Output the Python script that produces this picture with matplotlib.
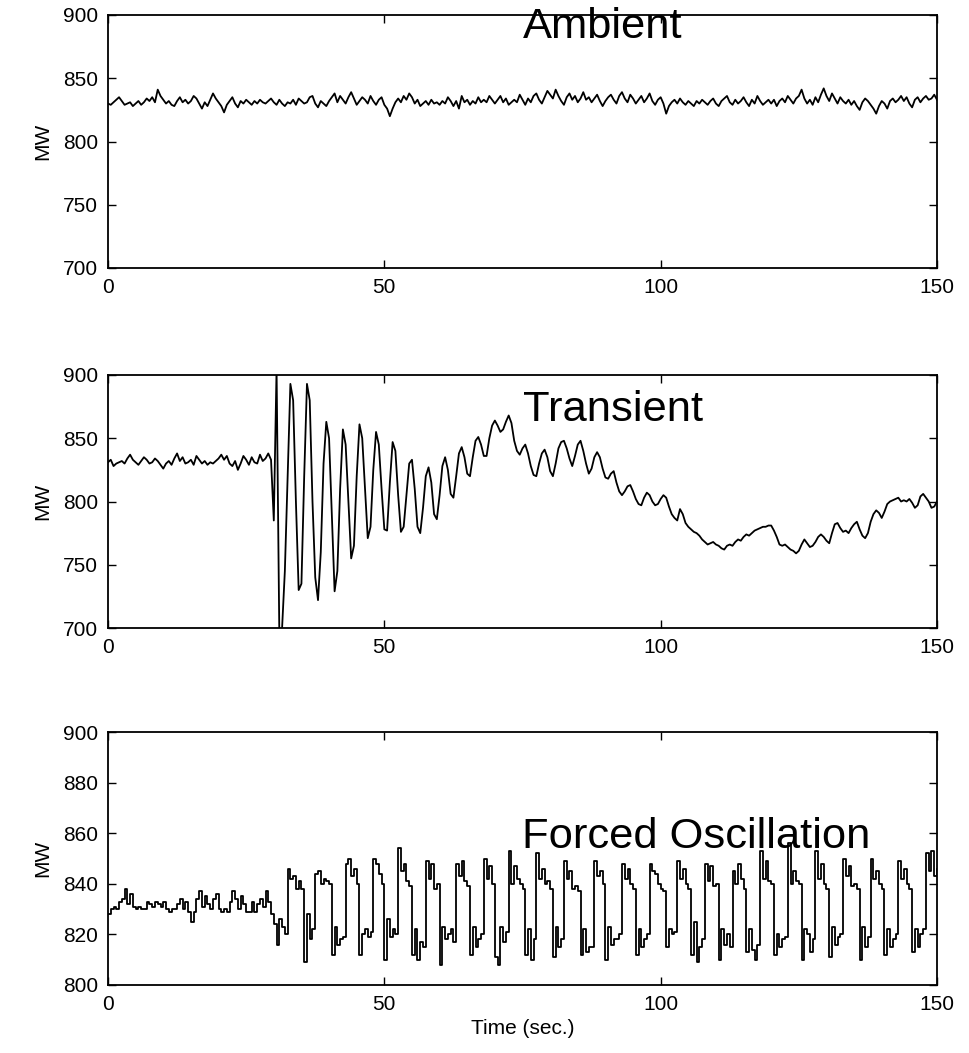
import numpy as np
import matplotlib
matplotlib.use("Agg")
import matplotlib.pyplot as plt

plt.rcParams['font.family'] = ['Liberation Sans', 'DejaVu Sans']

# ---------------- data (MW, sampled every 0.5 s from 0 to 150 s) ----------------
ambient_mw = [
    830, 829, 831, 833, 835, 832, 829, 830, 831, 828, 830, 832, 829, 831, 834, 832, 835, 831, 841, 836,
    833, 830, 832, 829, 828, 832, 835, 831, 833, 830, 832, 836, 834, 830, 826, 831, 828, 833, 838, 834,
    831, 828, 823, 829, 832, 835, 830, 827, 832, 830, 833, 831, 829, 832, 830, 833, 831, 830, 832, 834,
    831, 829, 833, 830, 828, 831, 830, 833, 829, 834, 832, 830, 831, 835, 836, 830, 827, 832, 830, 828,
    832, 835, 838, 831, 836, 833, 830, 835, 839, 834, 829, 832, 835, 833, 830, 836, 832, 829, 833, 835,
    829, 826, 820, 826, 831, 834, 831, 836, 833, 838, 835, 830, 833, 828, 830, 832, 829, 833, 830, 831,
    829, 832, 830, 835, 832, 828, 832, 826, 836, 831, 833, 829, 832, 830, 835, 831, 833, 831, 836, 833,
    830, 833, 836, 831, 834, 829, 831, 833, 831, 837, 833, 829, 834, 831, 836, 838, 833, 830, 835, 840,
    837, 834, 841, 836, 832, 829, 835, 838, 833, 836, 831, 834, 839, 833, 835, 831, 834, 837, 832, 828,
    832, 835, 837, 833, 830, 836, 839, 834, 831, 837, 834, 830, 833, 836, 831, 834, 838, 832, 829, 833,
    835, 830, 822, 828, 831, 833, 830, 834, 831, 829, 832, 830, 828, 832, 830, 833, 831, 829, 832, 834,
    830, 828, 832, 834, 836, 831, 829, 833, 830, 832, 835, 831, 828, 833, 830, 836, 832, 829, 831, 833,
    830, 833, 828, 832, 834, 831, 836, 833, 830, 834, 836, 841, 834, 830, 833, 829, 835, 831, 837, 842,
    836, 832, 838, 834, 830, 835, 832, 830, 833, 829, 832, 828, 825, 831, 834, 832, 829, 826, 822, 828,
    832, 830, 826, 832, 834, 831, 833, 836, 832, 835, 830, 827, 833, 835, 831, 834, 836, 833, 834, 837,
    833,
]

transient_mw = [
    831, 833, 828, 830, 831, 832, 830, 834, 837, 833, 831, 829, 832, 835, 833, 830, 831, 834, 832, 829,
    826, 830, 832, 829, 834, 838, 832, 835, 830, 831, 833, 829, 836, 833, 830, 832, 829, 831, 830, 832,
    834, 837, 833, 836, 830, 828, 832, 825, 830, 836, 833, 829, 835, 831, 830, 837, 832, 834, 838, 833,
    785, 905, 695, 700, 745, 820, 893, 880, 800, 730, 735, 820, 893, 880, 800, 740, 722, 760, 830, 863,
    850, 790, 729, 745, 810, 857, 845, 800, 755, 765, 820, 861, 850, 810, 771, 780, 825, 855, 845, 810,
    778, 777, 815, 847, 840, 805, 776, 780, 805, 830, 833, 810, 780, 775, 795, 820, 827, 815, 790, 786,
    805, 828, 835, 825, 806, 803, 820, 838, 843, 835, 822, 820, 835, 848, 851, 845, 836, 836, 850, 860,
    864, 860, 855, 857, 863, 868, 862, 848, 840, 837, 842, 845, 838, 828, 821, 820, 830, 838, 841, 835,
    824, 820, 830, 842, 847, 848, 842, 834, 828, 836, 845, 848, 840, 830, 822, 826, 835, 839, 835, 826,
    819, 818, 822, 824, 815, 808, 805, 808, 812, 813, 808, 802, 798, 797, 803, 807, 805, 800, 797, 798,
    802, 805, 803, 796, 790, 787, 785, 794, 790, 783, 780, 778, 776, 775, 773, 770, 768, 766, 767, 768,
    766, 765, 763, 762, 765, 766, 765, 768, 770, 769, 772, 774, 773, 775, 777, 778, 779, 780, 780, 781,
    781, 777, 772, 766, 765, 766, 764, 762, 761, 759, 761, 766, 770, 767, 764, 765, 768, 772, 774, 772,
    769, 767, 775, 782, 783, 779, 776, 777, 775, 779, 782, 784, 778, 773, 771, 775, 784, 790, 793, 791,
    787, 792, 798, 800, 801, 802, 803, 800, 801, 800, 802, 799, 795, 797, 804, 806, 803, 800, 795, 796,
    800,
]

forced_mw = [
    828, 830, 831, 830, 833, 834, 838, 832, 836, 831, 830, 831, 830, 830, 833, 832, 831, 833, 832, 831,
    833, 830, 829, 830, 830, 832, 834, 830, 833, 829, 825, 829, 834, 837, 831, 835, 832, 830, 834, 836,
    830, 829, 830, 829, 833, 837, 834, 830, 835, 832, 829, 829, 833, 829, 832, 834, 831, 837, 833, 828,
    824, 816, 826, 823, 820, 846, 842, 843, 838, 841, 838, 809, 828, 818, 822, 844, 845, 840, 842, 841,
    840, 812, 823, 816, 818, 819, 848, 850, 843, 846, 840, 812, 820, 822, 819, 821, 850, 848, 844, 840,
    810, 826, 819, 822, 820, 854, 845, 848, 841, 839, 812, 822, 810, 817, 815, 849, 842, 848, 838, 840,
    808, 823, 818, 820, 822, 817, 848, 843, 849, 841, 839, 812, 823, 815, 818, 820, 850, 842, 847, 840,
    811, 808, 823, 817, 821, 853, 840, 847, 842, 840, 838, 812, 822, 810, 818, 852, 842, 846, 840, 841,
    838, 811, 823, 815, 818, 849, 842, 845, 838, 839, 837, 812, 822, 813, 815, 815, 849, 843, 845, 840,
    810, 823, 816, 818, 818, 820, 848, 842, 846, 840, 838, 812, 822, 815, 818, 820, 848, 845, 844, 840,
    838, 837, 815, 822, 820, 821, 849, 842, 846, 840, 838, 812, 825, 809, 815, 818, 848, 841, 847, 839,
    840, 810, 822, 816, 820, 815, 845, 840, 848, 842, 838, 813, 822, 814, 810, 816, 853, 842, 849, 841,
    840, 812, 820, 815, 818, 819, 856, 840, 845, 841, 840, 810, 822, 820, 813, 818, 853, 842, 848, 840,
    838, 811, 823, 816, 819, 820, 850, 843, 847, 839, 840, 838, 810, 823, 815, 819, 850, 842, 845, 840,
    838, 812, 822, 815, 818, 820, 849, 842, 846, 840, 838, 813, 822, 815, 820, 822, 852, 845, 853, 843,
    846,
]

panel_titles = ["Ambient", "Transient", "Forced Oscillation"]
panel_series = [ambient_mw, transient_mw, forced_mw]
panel_steps = ['default', 'default', 'steps-post']
panel_ylims = [(700, 900), (700, 900), (800, 900)]
panel_yticks = [[700, 750, 800, 850, 900], [700, 750, 800, 850, 900],
                [800, 820, 840, 860, 880, 900]]
title_pos = [(75, 890.5), (75, 872.5), (75, 858.5)]
xticks = [0, 50, 100, 150]

# ---------------- figure ----------------
W, H = 969, 1053
fig = plt.figure(figsize=(W / 100, H / 100), dpi=100)

ax_px = [(15, 268), (375, 628), (732, 985)]
left_px, right_px = 108, 937

for i, (top, bot) in enumerate(ax_px):
    ax = fig.add_axes([left_px / W, 1 - bot / H, (right_px - left_px) / W, (bot - top) / H])
    y = np.asarray(panel_series[i], dtype=float)
    t = np.arange(len(y)) * 0.5
    ax.plot(t, y, color='black', lw=1.3, drawstyle=panel_steps[i])
    ax.set_xlim(0, 150)
    ax.set_ylim(*panel_ylims[i])
    ax.set_xticks(xticks)
    ax.set_yticks(panel_yticks[i])
    ax.tick_params(direction='in', top=True, right=True, length=6, width=1.0,
                   labelsize=15, pad=7, colors='black')
    for s in ax.spines.values():
        s.set_linewidth(1.3)
    ax.set_ylabel('MW', fontsize=15, labelpad=8)
    ax.text(title_pos[i][0], title_pos[i][1], panel_titles[i], fontsize=31.3,
            ha='left', va='center')
    if i == 2:
        ax.set_xlabel('Time (sec.)', fontsize=15, labelpad=4)

fig.savefig('out.png', dpi=100, facecolor='white')
